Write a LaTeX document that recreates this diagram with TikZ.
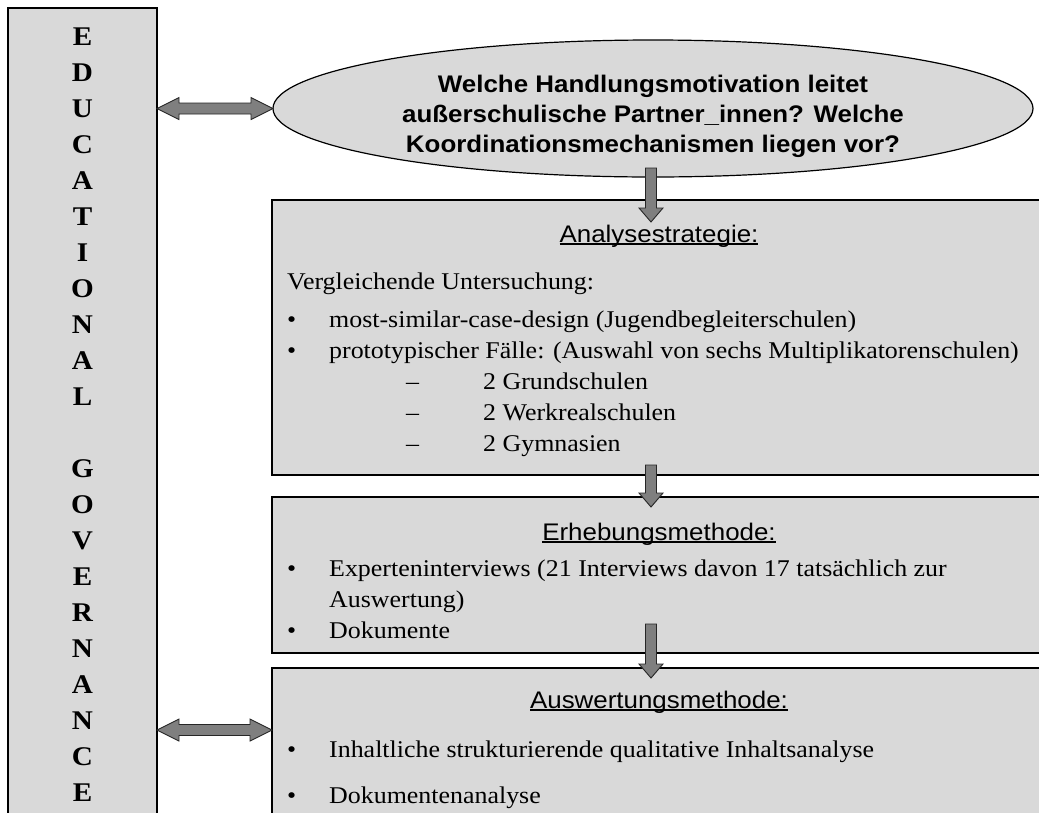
\documentclass[tikz,border=0pt]{standalone}
\usepackage{fontspec}
\setmainfont{Liberation Serif}[FakeStretch=1.08]
\setsansfont{Liberation Sans}[FakeStretch=1.08]
\usetikzlibrary{shapes.geometric,calc,positioning}
\definecolor{boxgray}{HTML}{D9D9D9}
\definecolor{arrgray}{HTML}{7F7F7F}
\tikzset{graybox/.style={draw, fill=boxgray, line width=1.2pt, inner sep=0, outer sep=0}}
\tikzset{blockarr/.style={draw=black!85, fill=arrgray, line width=0.9pt, line join=miter}}
\tikzset{headtxt/.style={font=\sffamily\fontsize{24}{28}\selectfont, inner sep=0, anchor=base}}
\tikzset{bodytxt/.style={font=\fontsize{24}{31}\selectfont, align=left, inner sep=0, anchor=north west}}
\newcommand\headul[1]{\setbox0\hbox{#1}\rlap{\rule[-2.5pt]{\wd0}{1.1pt}}\box0}
\newcommand\bul{\makebox[42pt][l]{\textbullet}}
\newcommand\downarr[2]{
		\draw[blockarr] ($(#1)+(-5.5,0)$) -- ($(#2)+(-5.5,-14)$) -- ($(#2)+(-12,-14)$) -- (#2)
			-- ($(#2)+(12,-14)$) -- ($(#2)+(5.5,-14)$) -- ($(#1)+(5.5,0)$) -- cycle;
	}
\newcommand\twinarr[2]{
		\draw[blockarr] (#1) -- ($(#1)+(22,-11)$) -- ($(#1)+(22,-5.5)$) -- ($(#2)+(-22,-5.5)$)
			-- ($(#2)+(-22,-11)$) -- (#2) -- ($(#2)+(-22,11)$) -- ($(#2)+(-22,5.5)$)
			-- ($(#1)+(22,5.5)$) -- ($(#1)+(22,11)$) -- cycle;
	}

\begin{document}
\begin{tikzpicture}[x=1pt,y=-1pt]
    \useasboundingbox (0,0) rectangle (1039,812);
    \fill[white] (0,0) rectangle (1039,812);

    \node[graybox, minimum width=149pt, minimum height=840pt, anchor=north west] (edu) at (8,8) {};
    \node[font=\bfseries\fontsize{27}{36}\selectfont, align=center, inner sep=0] (edutxt) at (82.5,415)
        {E\\D\\U\\C\\A\\T\\I\\O\\N\\A\\L\\[36pt]G\\O\\V\\E\\R\\N\\A\\N\\C\\E};

    \node[graybox, ellipse, minimum width=760pt, minimum height=137pt] (quest) at (653,108.5) {};
    \node[align=center, inner sep=0, font=\sffamily\bfseries\fontsize{24}{30}\selectfont] (questtxt) at (653,116.5)
        {Welche Handlungsmotivation leitet\\außerschulische Partner\_innen? Welche\\Koordinationsmechanismen liegen vor?};

    \node[graybox, minimum width=774pt, minimum height=275pt, anchor=north west] (strat) at (272,200) {};
    \node[graybox, minimum width=774pt, minimum height=156pt, anchor=north west] (erheb) at (272,497) {};
    \node[graybox, minimum width=774pt, minimum height=200pt, anchor=north west] (ausw) at (272,668) {};

    \node[headtxt] (strathead) at ([yshift=-42pt]strat.north) {\headul{Analysestrategie:}};
    \node[bodytxt] (stratbody) at ([xshift=15pt,yshift=-72.5pt]strat.north west)
        {Vergleichende Untersuchung:\\[7pt]
         \bul most-similar-case-design (Jugendbegleiterschulen)\\
         \bul prototypischer Fälle: (Auswahl von sechs Multiplikatorenschulen)\\
         \hspace*{119pt}\makebox[77pt][l]{–}2 Grundschulen\\
         \hspace*{119pt}\makebox[77pt][l]{–}2 Werkrealschulen\\
         \hspace*{119pt}\makebox[77pt][l]{–}2 Gymnasien};

    \node[headtxt] (erhebhead) at ([yshift=-43pt]erheb.north) {\headul{Erhebungsmethode:}};
    \node[bodytxt] (erhebbody) at ([xshift=15pt,yshift=-63pt]erheb.north west)
        {\bul Experteninterviews (21 Interviews davon 17 tatsächlich zur\\
         \hspace*{42pt}Auswertung)\\
         \bul Dokumente};

    \node[headtxt] (auswhead) at ([yshift=-40pt]ausw.north) {\headul{Auswertungsmethode:}};
    \node[bodytxt] (auswbody) at ([xshift=15pt,yshift=-72.5pt]ausw.north west)
        {\bul Inhaltliche strukturierende qualitative Inhaltsanalyse\\[15pt]
         \bul Dokumentenanalyse};

    \coordinate (a1top) at ([xshift=-2pt,yshift=9pt]quest.south);
    \coordinate (a1tip) at ([xshift=-8pt,yshift=-22pt]strat.north);
    \coordinate (a2top) at ([xshift=-8pt,yshift=10pt]strat.south);
    \coordinate (a2tip) at ([xshift=-8pt,yshift=-10pt]erheb.north);
    \coordinate (a3top) at ([xshift=-8pt,yshift=29pt]erheb.south);
    \coordinate (a3tip) at ([xshift=-8pt,yshift=-10pt]ausw.north);
    \coordinate (a4) at ([yshift=38pt]ausw.west);

    \downarr{a1top}{a1tip}
    \downarr{a2top}{a2tip}
    \downarr{a3top}{a3tip}
    \twinarr{edu.east |- quest.west}{quest.west}
    \twinarr{edu.east |- a4}{a4}
\end{tikzpicture}
\end{document}
